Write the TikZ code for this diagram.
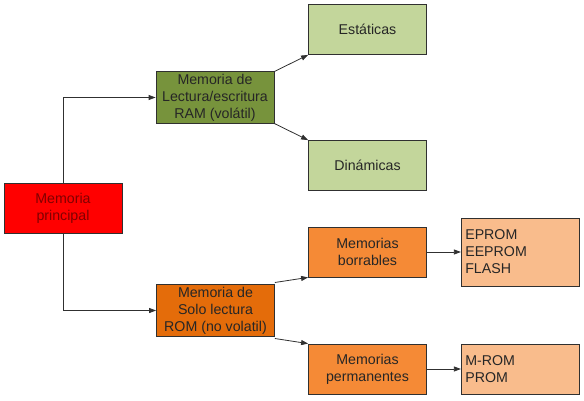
\documentclass[tikz,border=0pt]{standalone}
\usepackage{fontspec}
\setmainfont{Liberation Sans}
\usetikzlibrary{arrows.meta,positioning}

\definecolor{rojo}{HTML}{FF0000}
\definecolor{rojotxt}{HTML}{800000}
\definecolor{verdeD}{HTML}{77933C}
\definecolor{verdeL}{HTML}{C3D69B}
\definecolor{naranjaD}{HTML}{E46C0A}
\definecolor{naranjaM}{HTML}{F58A36}
\definecolor{naranjaL}{HTML}{F9BC8C}
\definecolor{linea}{HTML}{303030}

\begin{document}
\begin{tikzpicture}[x=1pt,y=-1pt,
    caja/.style={draw=linea,line width=0.8pt,minimum width=118pt,
                 minimum height=50pt,inner sep=2pt,align=center,
                 font=\fontsize{14.2}{17}\selectfont,text=black!85},
    lista/.style={caja,align=left,text width=110pt},
    flecha/.style={-{Triangle[length=7pt,width=5pt]},line width=0.8pt,linea}]

\useasboundingbox (0,0) rectangle (584,400);

\node[caja,fill=rojo,text=rojotxt]
      (prin) at (63,208) {Memoria\\principal};

\node[caja,fill=verdeD]
      (ram) at (215,97.5) {Memoria de\\Lectura/escritura\\RAM (vol\'atil)};

\node[caja,fill=naranjaD]
      (rom) at (215.5,310.5) {Memoria de\\Solo lectura\\ROM (no volatil)};

\node[caja,fill=verdeL]
      (est) at (367.5,29.5) {Est\'aticas};

\node[caja,fill=verdeL]
      (din) at (367.5,165.5) {Din\'amicas};

\node[caja,fill=naranjaM]
      (bor) at (367.5,252) {Memorias\\borrables};

\node[caja,fill=naranjaM]
      (per) at (367.5,369) {Memorias\\permanentes};

\node[lista,fill=naranjaL,minimum height=68pt,
      right=34pt of bor]
      (eprom) {EPROM\\EEPROM\\FLASH};

\node[lista,fill=naranjaL,
      right=34pt of per]
      (mrom) {M-ROM\\PROM};

% ramas de la memoria principal
\draw[flecha] (prin.north) |- (ram.west);
\draw[flecha] (prin.south) |- (rom.west);

% RAM
\draw[flecha] (ram.north east) -- (est.south west);
\draw[flecha] (ram.south east) -- (din.north west);

% ROM
\draw[flecha] ([yshift=2pt]rom.north east) -- (bor.south west);
\draw[flecha] ([yshift=-2pt]rom.south east) -- (per.north west);

\draw[flecha] (bor) -- (eprom);
\draw[flecha] (per) -- (mrom);

\end{tikzpicture}
\end{document}
